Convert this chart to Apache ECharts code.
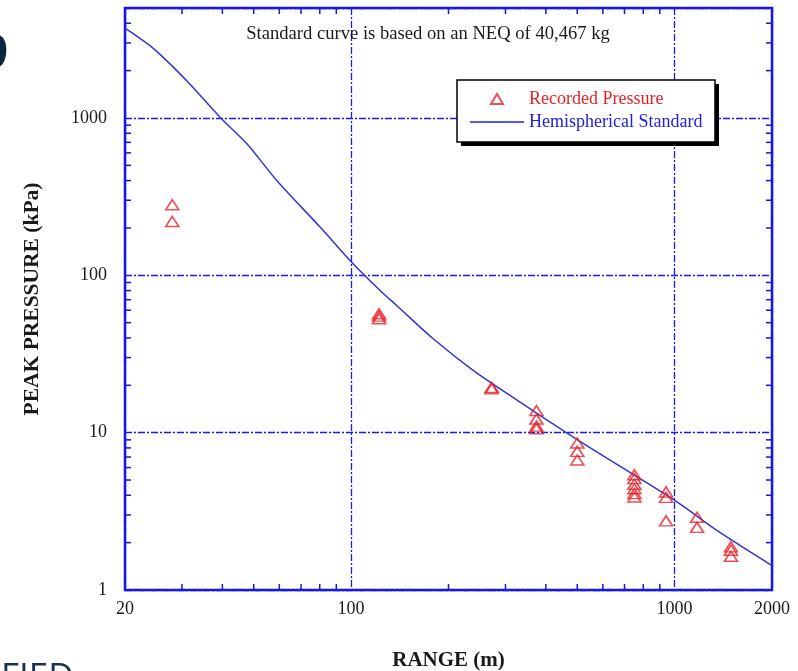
<!DOCTYPE html>
<html>
<head>
<meta charset="utf-8">
<script src="https://cdn.jsdelivr.net/npm/echarts@6/dist/echarts.min.js"></script>
<style>
  html, body { margin: 0; padding: 0; background: #fff; }
  #main { width: 798px; height: 671px; }
</style>
</head>
<body>
<div id="main"></div>
<script>
// recorded peak pressures (range m, pressure kPa)
var recRange = [28, 28, 122, 122, 122, 272, 272, 374, 374, 374, 374, 500, 500, 500,
                751, 751, 751, 751, 751, 751, 941, 941, 941, 1173, 1173, 1493, 1493, 1493];
var recPressure = [281, 220, 57, 55, 53, 19.4, 19.0, 13.8, 12.2, 11.0, 10.6, 8.6, 7.6, 6.7,
                   5.4, 5.1, 4.7, 4.4, 4.1, 3.9, 4.2, 3.88, 2.75, 2.9, 2.5, 1.88, 1.79, 1.64];

// hemispherical standard curve
var stdRange = [20, 24.3, 28.3, 32.3, 39.4, 47.7, 59, 80.3, 101.6, 122.9, 138.3, 179.4,
                238.4, 332, 462.6, 586, 998, 1373, 2000];
var stdPressure = [3720, 2800, 2090, 1580, 1007, 683, 399, 202, 118, 80.1, 64.3, 39.5,
                   24.9, 15.7, 10.0, 7.35, 3.72, 2.34, 1.43];

// minor ticks on the frame
var xMinorTicks = [30, 40, 50, 60, 70, 80, 90, 200, 300, 400, 500, 600, 700, 800, 900];
var yMinorTicks = [2, 3, 4, 5, 6, 7, 8, 9, 20, 30, 40, 50, 60, 70, 80, 90,
                   200, 300, 400, 500, 600, 700, 800, 900, 2000, 3000, 4000];

var xMin = 20, xMax = 2000, yMin = 1, yMax = 5000;
var frameBlue = '#1414e6';
var gridBlue = '#1a1aee';
var red = '#e3232a';
var serif = '"Liberation Serif", "Times New Roman", serif';

var chart = echarts.init(document.getElementById('main'), null, {renderer: 'canvas'});

var recData = recRange.map(function (r, i) { return [r, recPressure[i]]; });
var stdData = stdRange.map(function (r, i) { return [r, stdPressure[i]]; });
var tickData = xMinorTicks.map(function (v) { return [v, yMin, 0]; })
    .concat(yMinorTicks.map(function (v) { return [xMin, v, 1]; }));

function renderTick(params, api) {
    var len = 6;
    var st = {stroke: frameBlue, lineWidth: 1.5};
    if (api.value(2) === 0) {
        var b = api.coord([api.value(0), yMin]);
        var t = api.coord([api.value(0), yMax]);
        return {type: 'group', children: [
            {type: 'line', shape: {x1: b[0], y1: b[1], x2: b[0], y2: b[1] - len}, style: st},
            {type: 'line', shape: {x1: t[0], y1: t[1], x2: t[0], y2: t[1] + len}, style: st}
        ]};
    }
    var l = api.coord([xMin, api.value(1)]);
    var r = api.coord([xMax, api.value(1)]);
    return {type: 'group', children: [
        {type: 'line', shape: {x1: l[0], y1: l[1], x2: l[0] + len, y2: l[1]}, style: st},
        {type: 'line', shape: {x1: r[0], y1: r[1], x2: r[0] - len, y2: r[1]}, style: st}
    ]};
}

var option = {
    backgroundColor: '#fff',
    animation: false,
    title: {
        text: 'Standard curve is based on an NEQ of 40,467 kg',
        left: 428,
        top: 25,
        padding: 0,
        textAlign: 'center',
        textStyle: {fontFamily: serif, fontSize: 18.6, fontWeight: 'normal', color: '#1a1a1a'}
    },
    legend: {
        orient: 'vertical',
        left: 457,
        top: 80,
        padding: [10, 10, 11, 12],
        itemGap: 5,
        itemWidth: 54,
        itemHeight: 12,
        selectedMode: false,
        z: 20,
        textStyle: {fontFamily: serif, fontSize: 18},
        data: [
            // invisible moves keep the icon box at 54x12 so the triangle is not stretched
            {name: 'Recorded Pressure', icon: 'path://M0,0 M54,12 M27,1 L33,11 L21,11 Z',
             textStyle: {color: red}},
            {name: 'Hemispherical Standard', icon: 'path://M0,0 H54 V1.5 H0 Z',
             textStyle: {color: '#2020e0'}}
        ]
    },
    grid: {
        left: 125, right: 26, top: 8, bottom: 81,
        outerBoundsMode: 'none',
        show: true,
        borderColor: frameBlue,
        borderWidth: 2.5,
        backgroundColor: '#fff'
    },
    xAxis: {
        type: 'log',
        min: xMin,
        max: xMax,
        name: 'RANGE (m)',
        nameLocation: 'middle',
        nameGap: 60,
        nameTextStyle: {fontFamily: serif, fontSize: 21, fontWeight: 'bold', color: '#1a1a1a'},
        axisLine: {show: false},
        axisTick: {show: false},
        axisLabel: {
            margin: 10,
            fontFamily: serif, fontSize: 18, color: '#1a1a1a',
            showMinLabel: true, showMaxLabel: true,
            formatter: function (v) { return String(Math.round(v)); }
        },
        splitLine: {show: true, lineStyle: {color: gridBlue, width: 1.3, type: [7, 2, 2, 2]}}
    },
    yAxis: {
        type: 'log',
        min: yMin,
        max: yMax,
        name: 'PEAK PRESSURE (kPa)',
        nameLocation: 'middle',
        nameGap: 82,
        nameRotate: 90,
        nameTextStyle: {fontFamily: serif, fontSize: 21.5, fontWeight: 'bold', color: '#1a1a1a'},
        axisLine: {show: false},
        axisTick: {show: false},
        axisLabel: {
            margin: 18,
            fontFamily: serif, fontSize: 18, color: '#1a1a1a',
            formatter: function (v) {
                var n = Math.round(v);
                return n >= yMax ? '' : String(n);
            }
        },
        splitLine: {show: true, lineStyle: {color: gridBlue, width: 1.3, type: [7, 2, 2, 2]}}
    },
    graphic: [
        // legend frame with hard drop shadow
        {type: 'rect', x: 461, y: 84, z: 15, shape: {width: 258, height: 62},
         style: {fill: '#000'}},
        {type: 'rect', x: 457, y: 80, z: 16, shape: {width: 258, height: 62},
         style: {fill: '#fff', stroke: '#000', lineWidth: 1.5}},
        // clipped slide text around the chart
        {type: 'text', x: 8, y: 56, z: 10,
         style: {text: '9', fill: '#0d2640', font: 'bold 50px "Open Sans", sans-serif',
                 textAlign: 'right', textVerticalAlign: 'middle'}},
        {type: 'text', x: 1, y: 661, z: 10,
         style: {text: 'FIED', fill: '#17324f', font: '35px "Open Sans", sans-serif',
                 textAlign: 'left', textVerticalAlign: 'top'}}
    ],
    series: [
        {
            name: 'Hemispherical Standard',
            type: 'line',
            data: stdData,
            symbol: 'none',
            smooth: 0.3,
            lineStyle: {color: '#3434d4', width: 1.5},
            itemStyle: {color: '#2020e0'},
            z: 3
        },
        {
            name: 'Recorded Pressure',
            type: 'scatter',
            data: recData,
            symbol: 'triangle',
            symbolSize: [13, 10],
            itemStyle: {color: 'rgba(255,255,255,0)', borderColor: red, borderWidth: 1.6},
            z: 4
        },
        {
            name: 'ticks',
            type: 'custom',
            renderItem: renderTick,
            data: tickData,
            silent: true,
            clip: false,
            z: 5
        }
    ]
};

chart.setOption(option);
</script>
</body>
</html>
